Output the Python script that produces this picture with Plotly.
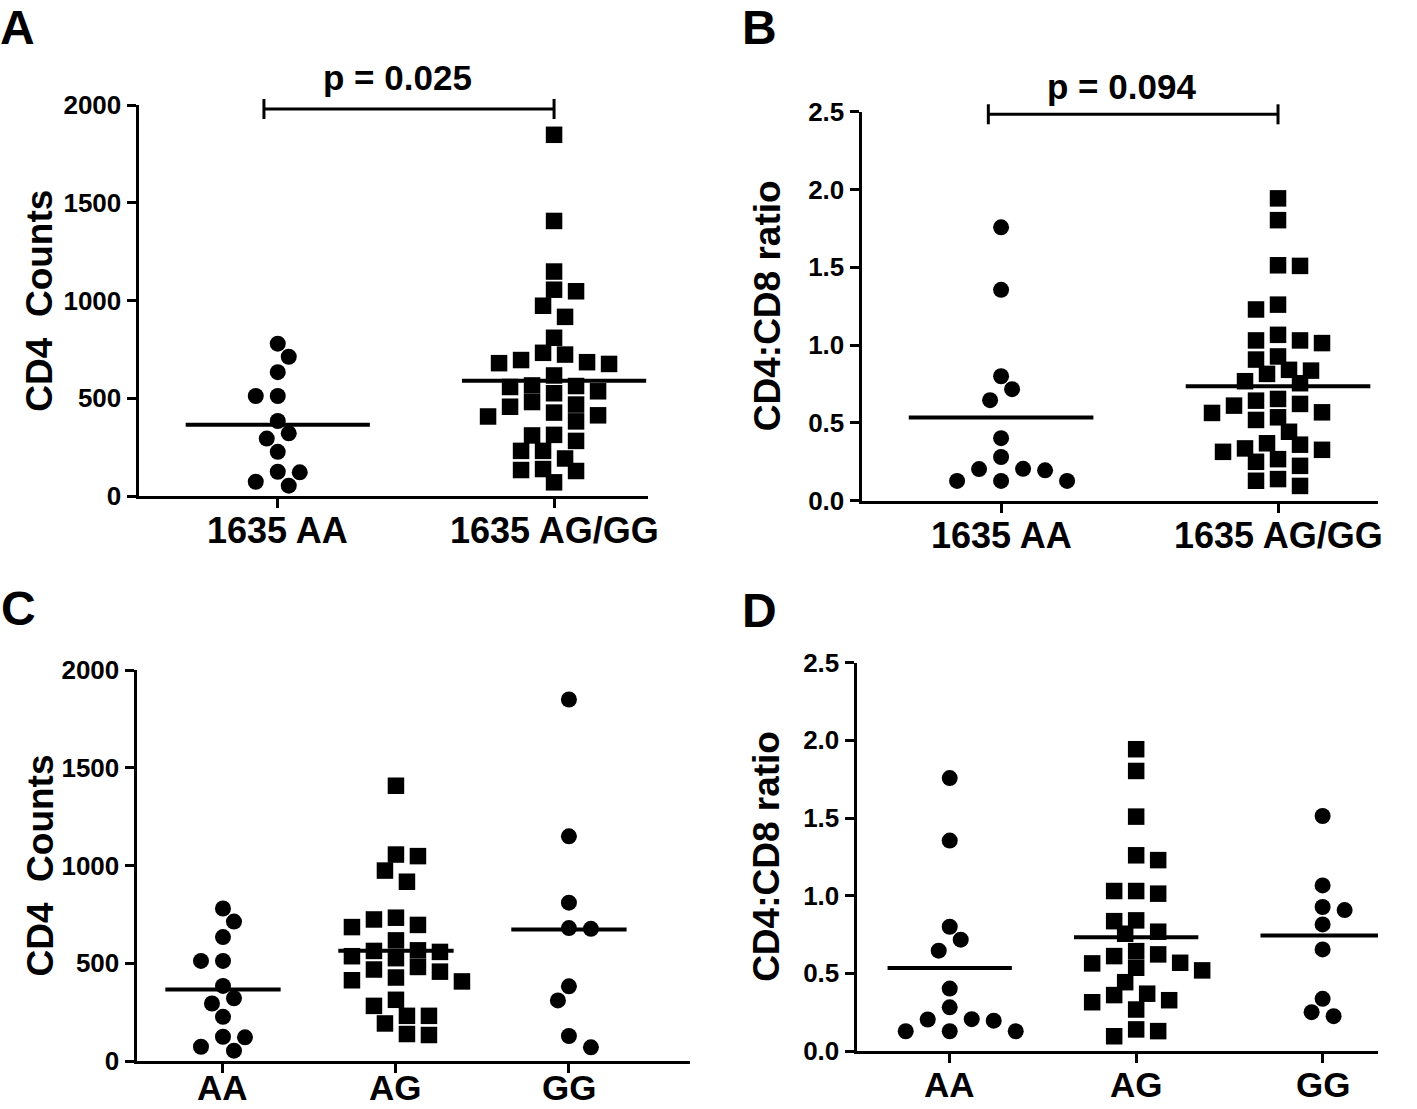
import numpy as np
import plotly.graph_objects as go

# ---------------- data ----------------
cats_combined = ["1635 AA", "1635 AG/GG"]
cats_geno = ["AA", "AG", "GG"]

cd4_AA = [780, 713, 634, 512, 512, 384, 321, 294, 226, 124, 121, 73, 53]
cd4_AG = [1408, 1056, 1048, 974, 917, 733, 724, 696, 685, 617, 566, 563, 558, 536,
          526, 481, 468, 457, 427, 413, 407, 313, 282, 231, 231, 192, 138, 133]
cd4_GG = [1849, 1149, 810, 680, 676, 382, 310, 128, 70]

ratio_AA = [1.757, 1.355, 0.80, 0.717, 0.646, 0.402, 0.281, 0.205, 0.203, 0.195,
            0.127, 0.127, 0.127]
ratio_AG = [1.943, 1.803, 1.509, 1.260, 1.229, 1.030, 1.030, 1.013, 0.841, 0.836,
            0.768, 0.755, 0.643, 0.622, 0.611, 0.568, 0.564, 0.536, 0.519, 0.443,
            0.369, 0.360, 0.327, 0.314, 0.267, 0.139, 0.128, 0.095]
ratio_GG = [1.513, 1.066, 0.927, 0.907, 0.815, 0.654, 0.336, 0.250, 0.224]

cd4_ticks = [0, 500, 1000, 1500, 2000]
ratio_ticks = [0.0, 0.5, 1.0, 1.5, 2.0, 2.5]
p_values = ["p = 0.025", "p = 0.094"]
panel_letters = ["A", "B", "C", "D"]
y_titles = ["CD4\u00a0\u00a0Counts", "CD4:CD8 ratio"]

# ---------------- layout geometry (pixels in the 1417x1109 page) ----------------
W, H = 1417, 1109
FONT = "Liberation Sans, Arial, Helvetica, sans-serif"


def px_x(x):
    return x / W


def px_y(y):
    return 1 - y / H


panels = [
    dict(box=(138.5, 648, 105.3, 496.0), xr=[-0.504, 1.34], yr=[0, 2000],
         cats=cats_combined, lab_size=36,
         groups=[(cd4_AA, "circle"), (cd4_AG + cd4_GG, "square")],
         yt=cd4_ticks, fmt="{:.0f}", title=y_titles[0], title_x=40, lab_y=530),
    dict(box=(861.5, 1378, 111.7, 500.7), xr=[-0.504, 1.361], yr=[0, 2.5],
         cats=cats_combined, lab_size=36,
         groups=[(ratio_AA, "circle"), (ratio_AG + ratio_GG, "square")],
         yt=ratio_ticks, fmt="{:.1f}", title=y_titles[1], title_x=767, lab_y=535),
    dict(box=(136.5, 690, 670.0, 1061.0), xr=[-0.5, 2.70], yr=[0, 2000],
         cats=cats_geno, lab_size=35,
         groups=[(cd4_AA, "circle"), (cd4_AG, "square"), (cd4_GG, "circle")],
         yt=cd4_ticks, fmt="{:.0f}", title=y_titles[0], title_x=40, lab_y=1087),
    dict(box=(856.5, 1378, 662.7, 1051.0), xr=[-0.5, 2.297], yr=[0, 2.5],
         cats=cats_geno, lab_size=35,
         groups=[(ratio_AA, "circle"), (ratio_AG, "square"), (ratio_GG, "circle")],
         yt=ratio_ticks, fmt="{:.1f}", title=y_titles[1], title_x=767, lab_y=1084),
]


def swarm(vals, ppu_y, step=11.0, dmin=16.5):
    """Greedy beeswarm: returns horizontal pixel offsets."""
    vals = np.asarray(vals, float)
    order = np.argsort(-vals, kind="stable")
    placed = []
    off = np.zeros(len(vals))
    side = 1
    for i in order:
        y = vals[i] * ppu_y
        chosen = None
        for m in range(0, 60):
            cands = [0] if m == 0 else [side * m, -side * m]
            for c in cands:
                x = c * step
                if all((x - px) ** 2 + (y - py) ** 2 >= dmin ** 2 for px, py in placed):
                    chosen = x
                    break
            if chosen is not None:
                break
        if chosen != 0:
            side = -side
        placed.append((chosen, y))
        off[i] = chosen
    return off


fig = go.Figure()
layout = dict(width=W, height=H, margin=dict(l=0, r=0, t=0, b=0, autoexpand=False),
              paper_bgcolor="white", plot_bgcolor="white", showlegend=False,
              font=dict(family=FONT, color="black"))
annotations = []
shapes = []

for n, p in enumerate(panels, start=1):
    x0, x1, top, bot = p["box"]
    sfx = "" if n == 1 else str(n)
    ppu_x = (x1 - x0) / (p["xr"][1] - p["xr"][0])
    ppu_y = (bot - top) / (p["yr"][1] - p["yr"][0])

    layout["xaxis" + sfx] = dict(
        domain=[px_x(x0), px_x(x1)], range=p["xr"], anchor="y" + sfx, automargin=False,
        showline=True, linewidth=3, linecolor="black", mirror=False,
        ticks="outside", ticklen=9, tickwidth=3, tickcolor="black",
        tickmode="array", tickvals=list(range(len(p["cats"]))),
        showticklabels=False,
        showgrid=False, zeroline=False, fixedrange=True)
    layout["yaxis" + sfx] = dict(
        domain=[px_y(bot), px_y(top)], range=p["yr"], anchor="x" + sfx,
        automargin=False,
        showline=True, linewidth=3, linecolor="black",
        ticks="outside", ticklen=9, tickwidth=3, tickcolor="black",
        tickmode="array", tickvals=p["yt"], ticktext=[p["fmt"].format(v) for v in p["yt"]],
        tickfont=dict(family=FONT, size=26, color="black", weight="bold"),
        showgrid=False, zeroline=False, fixedrange=True)

    # category labels under the x axis
    for ci, c in enumerate(p["cats"]):
        annotations.append(dict(
            text=c, xref="x" + sfx, yref="paper", x=ci, y=px_y(p["lab_y"]),
            xanchor="center", yanchor="middle", showarrow=False,
            font=dict(family=FONT, size=p["lab_size"], color="black", weight="bold")))

    for gi, (vals, sym) in enumerate(p["groups"]):
        offs = swarm(vals, ppu_y)
        xs = gi + offs / ppu_x
        fig.add_trace(go.Scatter(
            x=xs, y=vals, mode="markers", xaxis="x" + sfx, yaxis="y" + sfx,
            marker=dict(symbol=sym, size=16.5 if sym == "square" else 16,
                        color="black", line=dict(width=0)),
            cliponaxis=False, hoverinfo="skip"))
        m = float(np.mean(vals))
        fig.add_trace(go.Scatter(
            x=[gi - 1 / 3, gi + 1 / 3], y=[m, m], mode="lines",
            xaxis="x" + sfx, yaxis="y" + sfx,
            line=dict(color="black", width=4), hoverinfo="skip"))

    # y-axis title
    annotations.append(dict(
        text=p["title"], textangle=-90, xref="paper", yref="paper",
        x=px_x(p["title_x"]), y=px_y((top + bot) / 2),
        xanchor="center", yanchor="middle", showarrow=False,
        font=dict(family=FONT, size=37, color="black", weight="bold")))

# panel letters (top pair anchored to the top edge so they stay inside the page)
letter_pos = [(17, 0, "top"), (759, 0, "top"), (18, 608, "middle"), (759, 610, "middle")]
for L, (lx, ly, anc) in zip(panel_letters, letter_pos):
    annotations.append(dict(
        text=L, xref="paper", yref="paper", x=px_x(lx), y=px_y(ly),
        xanchor="center", yanchor=anc, showarrow=False, borderpad=0,
        font=dict(family=FONT, size=48, color="black", weight="bold")))

# significance brackets (panels A and B)
brackets = [
    dict(xref="x", x0=-0.05, x1=1.0, ypx=109, text=p_values[0], tx=0.435, typx=78),
    dict(xref="x2", x0=-0.046, x1=1.0, ypx=114.3, text=p_values[1], tx=0.435, typx=86),
]
for b in brackets:
    yb = px_y(b["ypx"])
    dy = 10 / H
    for (xa, ya, xb, yb2) in [(b["x0"], yb, b["x1"], yb),
                              (b["x0"], yb - dy, b["x0"], yb + dy),
                              (b["x1"], yb - dy, b["x1"], yb + dy)]:
        shapes.append(dict(type="line", xref=b["xref"], yref="paper",
                           x0=xa, x1=xb, y0=ya, y1=yb2,
                           line=dict(color="black", width=3)))
    annotations.append(dict(
        text=b["text"], xref=b["xref"], yref="paper", x=b["tx"], y=px_y(b["typx"]),
        xanchor="center", yanchor="middle", showarrow=False,
        font=dict(family=FONT, size=35, color="black", weight="bold")))

layout["annotations"] = annotations
layout["shapes"] = shapes
fig.update_layout(**layout)
fig.write_html("out.html",
               config={"displayModeBar": False, "staticPlot": True},
               post_script="document.body.style.margin='0px';"
                           "document.body.style.overflow='hidden';")
